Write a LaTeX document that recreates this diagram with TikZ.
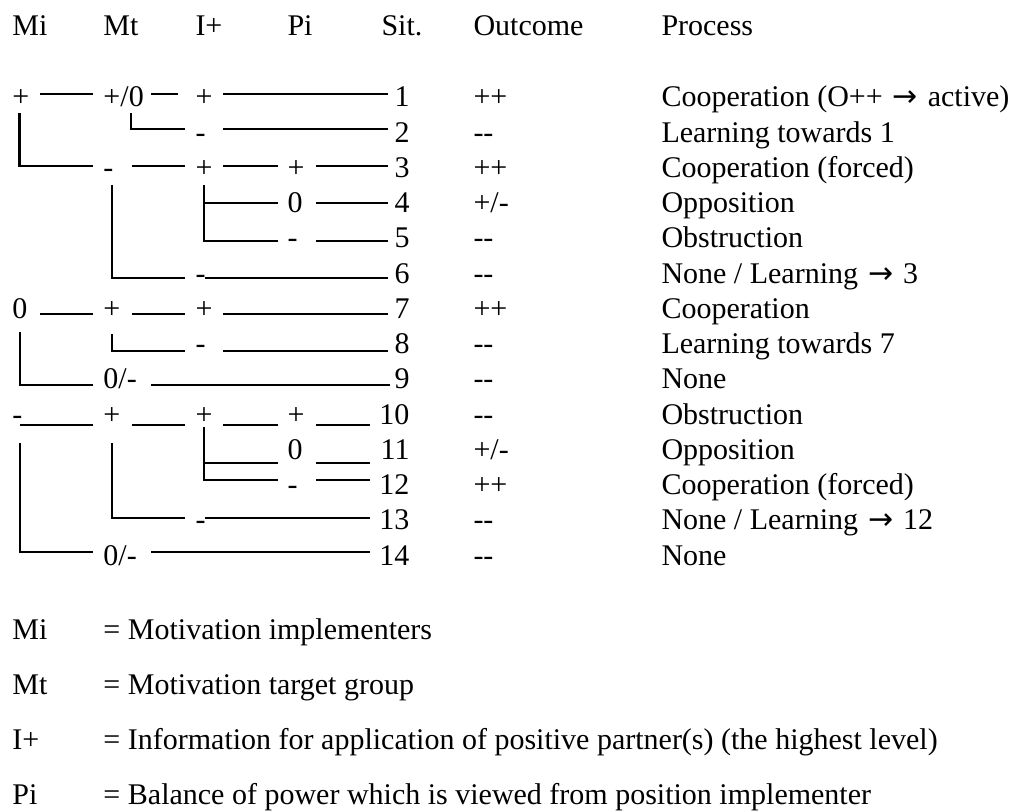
\documentclass[tikz,border=0pt]{standalone}
\usepackage{fontspec}
\setmainfont{Liberation Serif}
\newfontfamily\arrowfont{DejaVu Sans}
\newcommand\arrowgl{\setbox0\hbox{→}\hbox to\wd0{\hss\arrowfont →\hss}}

\begin{document}
\begin{tikzpicture}[x=0.4pt,y=-0.4pt,font=\fontsize{12pt}{14pt}\selectfont,
  lbl/.style={anchor=base west,inner sep=0pt},
  num/.style={anchor=base east,inner sep=0pt},
  rule/.style={line width=1pt}]
\useasboundingbox (0,0) rectangle (1016,812);

% Column headers
\node[lbl] (hmi) at (12,36) {Mi};
\node[lbl] (hmt) at (103,36) {Mt};
\node[lbl] (hip) at (195,36) {I+};
\node[lbl] (hpi) at (287,36) {Pi};
\node[lbl] (hsit) at (381,36) {Sit.};
\node[lbl] (hout) at (473,36) {Outcome};
\node[lbl] (hproc) at (661,36) {Process};

% Situations, outcomes and processes
\foreach \n/\o/\p in {1/++/{Cooperation (O++ \arrowgl{} active)},
    2/-{}-/{Learning towards 1}, 3/++/{Cooperation (forced)},
    4/{+/-}/{Opposition}, 5/-{}-/{Obstruction},
    6/-{}-/{None / Learning \arrowgl{} 3}, 7/++/{Cooperation},
    8/-{}-/{Learning towards 7}, 9/-{}-/{None},
    10/-{}-/{Obstruction}, 11/{+/-}/{Opposition},
    12/++/{Cooperation (forced)}, 13/-{}-/{None / Learning \arrowgl{} 12},
    14/-{}-/{None}} {
  \node[num] (sit\n) at (410,{107+35.25*(\n-1)}) {\n};
  \node[lbl] (out\n) at (473,{107+35.25*(\n-1)}) {\o};
  \node[lbl] (proc\n) at (661,{107+35.25*(\n-1)}) {\p};
}

% Tree labels, Mi = + branch
\node[lbl] (mi1) at (12,107) {+};
\node[lbl] (mt1) at (103,107) {+/0};
\node[lbl] (ip1) at (195,107) {+};
\node[lbl] (ip2) at (195,142.25) {-};
\node[lbl] (mt3) at (103,177.5) {-};
\node[lbl] (ip3) at (195,177.5) {+};
\node[lbl] (pi3) at (287,177.5) {+};
\node[lbl] (pi4) at (287,212.75) {0};
\node[lbl] (pi5) at (287,248) {-};
\node[lbl] (ip6) at (195,283.25) {-};
% Mi = 0 branch
\node[lbl] (mi7) at (12,318.5) {0};
\node[lbl] (mt7) at (103,318.5) {+};
\node[lbl] (ip7) at (195,318.5) {+};
\node[lbl] (ip8) at (195,353.75) {-};
\node[lbl] (mt9) at (103,389) {0/-};
% Mi = - branch
\node[lbl] (mi10) at (12,424.25) {-};
\node[lbl] (mt10) at (103,424.25) {+};
\node[lbl] (ip10) at (195,424.25) {+};
\node[lbl] (pi10) at (287,424.25) {+};
\node[lbl] (pi11) at (287,459.5) {0};
\node[lbl] (pi12) at (287,494.75) {-};
\node[lbl] (ip13) at (195,530) {-};
\node[lbl] (mt14) at (103,565.25) {0/-};

% Rules, rows 1-6
\draw[rule] (40,94) -- (93,94);
\draw[rule] (151,94) -- (178,94);
\draw[rule] (223,94) -- (388,94);
\draw[rule] (19.5,113) -- (19.5,166) -- (93,166);
\draw[rule] (131,113) -- (131,129) -- (185,129);
\draw[rule] (223,129) -- (388,129);
\draw[rule] (132,166) -- (185,166);
\draw[rule] (223,166) -- (278,166);
\draw[rule] (316,166) -- (388,166);
\draw[rule] (112,185) -- (112,278) -- (185,278);
\draw[rule] (204,185) -- (204,241) -- (278,241);
\draw[rule] (204,203) -- (278,203);
\draw[rule] (316,203) -- (388,203);
\draw[rule] (316,241) -- (388,241);
\draw[rule] (205,278) -- (388,278);

% Rules, rows 7-9
\draw[rule] (40,314) -- (93,314);
\draw[rule] (132,314) -- (185,314);
\draw[rule] (223,314) -- (388,314);
\draw[rule] (20,332) -- (20,385) -- (93,385);
\draw[rule] (112,334) -- (112,351) -- (185,351);
\draw[rule] (223,351) -- (388,351);
\draw[rule] (151,385) -- (390,385);

% Rules, rows 10-14
\draw[rule] (20,425) -- (93,425);
\draw[rule] (132,425) -- (185,425);
\draw[rule] (223,425) -- (278,425);
\draw[rule] (316,425) -- (370,425);
\draw[rule] (20,443) -- (20,552) -- (93,552);
\draw[rule] (112,443) -- (112,518) -- (185,518);
\draw[rule] (204,427) -- (204,480) -- (278,480);
\draw[rule] (204,463) -- (278,463);
\draw[rule] (316,463) -- (370,463);
\draw[rule] (316,480) -- (370,480);
\draw[rule] (205,518) -- (370,518);
\draw[rule] (151,552) -- (370,552);

% Legend
\foreach \k/\d [count=\i] in {Mi/{= Motivation implementers},
    Mt/{= Motivation target group},
    I+/{= Information for application of positive partner(s) (the highest level)},
    Pi/{= Balance of power which is viewed from position implementer}} {
  \node[lbl] (key\i) at (12,{585+55*\i}) {\k};
  \node[lbl] (def\i) at (103,{585+55*\i}) {\d};
}
\end{tikzpicture}
\end{document}
